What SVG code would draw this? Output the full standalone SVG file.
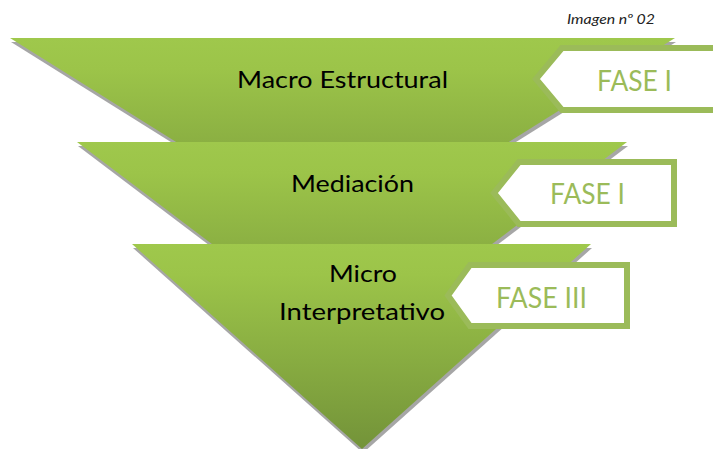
<svg xmlns="http://www.w3.org/2000/svg" width="713" height="449" viewBox="0 0 713 449">
  <defs>
    <linearGradient id="gr" x1="0" y1="0" x2="0" y2="1">
      <stop offset="0" stop-color="#9FC84C"/>
      <stop offset="0.15" stop-color="#9CC449"/>
      <stop offset="1" stop-color="#739339"/>
    </linearGradient>
    <style>
      .sh { fill: #A6A6A6; }
      .tri { fill: url(#gr); }
      .lbl { font-family: Lato, "Open Sans", "Liberation Sans", sans-serif; font-size: 24px; fill: #000; }
      .box { fill: #FFFFFF; stroke: #9BBB59; stroke-width: 6; stroke-linejoin: miter; }
      .fase { font-family: Lato, "Open Sans", "Liberation Sans", sans-serif; font-size: 29px; fill: #9BBB59; }
      .cap { font-family: Lato, "Open Sans", "Liberation Sans", sans-serif; font-size: 14px; font-style: italic; fill: #222; }
    </style>
  </defs>
  <rect width="713" height="449" fill="#FFFFFF"/>
  <text class="cap" x="567" y="24" textLength="88" lengthAdjust="spacingAndGlyphs">Imagen nº 02</text>

  <g id="level1">
    <polygon class="sh" points="11,42 676,42 343.5,250"/>
    <polygon class="tri" points="10,38 675,38 342.5,246"/>
    <text class="lbl" x="237" y="88" textLength="211" lengthAdjust="spacingAndGlyphs">Macro Estructural</text>
  </g>
  <g id="fase1">
    <polygon class="box" points="562,48 716,48 716,110 562,110 536,79"/>
    <text class="fase" x="597" y="91" textLength="75" lengthAdjust="spacingAndGlyphs">FASE I</text>
  </g>

  <g id="level2">
    <polygon class="sh" points="78,146 628,146 353,354"/>
    <polygon class="tri" points="77,142 627,142 352,350"/>
    <text class="lbl" x="291" y="192" textLength="123" lengthAdjust="spacingAndGlyphs">Mediación</text>
  </g>
  <g id="fase2">
    <polygon class="box" points="519,162 674,162 674,224 519,224 494,193"/>
    <text class="fase" x="550" y="204" textLength="75" lengthAdjust="spacingAndGlyphs">FASE I</text>
  </g>

  <g id="level3">
    <polygon class="sh" points="133,248 592,248 363,453"/>
    <polygon class="tri" points="132,244 591,244 362,449"/>
    <text class="lbl" x="329" y="282" textLength="68" lengthAdjust="spacingAndGlyphs">Micro</text>
    <text class="lbl" x="279" y="320" textLength="166" lengthAdjust="spacingAndGlyphs">Interpretativo</text>
  </g>
  <g id="fase3">
    <polygon class="box" points="470,265 627,265 627,326 470,326 448,295.5"/>
    <text class="fase" x="496" y="308" textLength="91" lengthAdjust="spacingAndGlyphs">FASE III</text>
  </g>

  <g id="connectors"/>
</svg>
